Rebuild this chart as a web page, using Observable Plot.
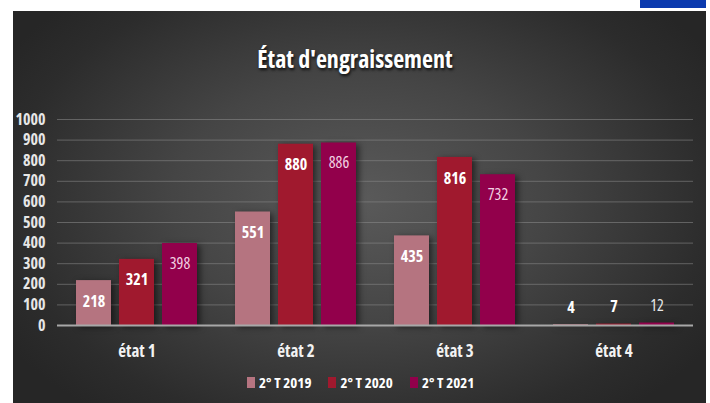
<!DOCTYPE html>
<html><head><meta charset="utf-8">
<script src="https://cdn.jsdelivr.net/npm/d3@7"></script>
<script src="https://cdn.jsdelivr.net/npm/@observablehq/plot@0.6"></script>
<style>
body{margin:0;background:#fff;width:710px;height:403px;overflow:hidden;position:relative;font-family:"Open Sans","DejaVu Sans",sans-serif;font-stretch:condensed;}
#blue{position:absolute;left:640px;top:0;width:66px;height:8px;background:#0b3aae;}
#panel{position:absolute;left:13px;top:11px;width:693px;height:392px;background:radial-gradient(ellipse 60% 70% at 50% 48%, #5a5a5a 0%, #454545 45%, #2c2c2c 85%, #262626 100%);}
#title{position:absolute;left:0;width:710px;top:45px;text-align:center;color:#fff;font-weight:bold;font-size:24px;line-height:28px;text-shadow:1px 2px 3px rgba(0,0,0,0.8);}
#chart{position:absolute;left:0;top:100px;}
#chart svg, #chart text{font-stretch:condensed;}
#chart g[aria-label="bar"] rect{filter:drop-shadow(3px 2px 3px rgba(0,0,0,0.55));}
#legend{position:absolute;top:373px;left:247px;display:flex;align-items:center;color:#fff;font-weight:bold;font-size:15px;line-height:18px;}
#legend .item{display:flex;align-items:center;margin-right:17px;}
#legend .sw{width:8px;height:11px;margin-right:4px;}
</style></head>
<body>
<div id="panel"></div>
<div id="blue"></div>
<div id="title">État d'engraissement</div>
<div id="chart"></div>
<div id="legend"></div>
<script>
const categories = ["état 1", "état 2", "état 3", "état 4"];
const series = ["2° T 2019", "2° T 2020", "2° T 2021"];
const v2019 = [218, 551, 435, 4];
const v2020 = [321, 880, 816, 7];
const v2021 = [398, 886, 732, 12];
const colors = ["#b57480", "#a0192e", "#92004b"];
const yTicks = [0, 100, 200, 300, 400, 500, 600, 700, 800, 900, 1000];

const values = [v2019, v2020, v2021];
const data = categories.flatMap((c, i) => series.map((s, j) => ({cat: c, s, v: values[j][i]})));

const font = '"Open Sans","DejaVu Sans",sans-serif';
const big = d => d.v >= 50;

const chart = Plot.plot({
  width: 710, height: 270,
  marginLeft: 57, marginRight: 17, marginTop: 19, marginBottom: 45,
  style: {background: "transparent", color: "#fff", fontFamily: font, fontSize: "16px", fontWeight: "bold", overflow: "visible", fontStretch: "condensed"},
  fx: {domain: categories, paddingInner: 0.226, paddingOuter: 0.113, label: null},
  x: {domain: series, paddingInner: 0.195, paddingOuter: 0, axis: null},
  y: {domain: [0, 1000], axis: null},
  color: {domain: series, range: colors},
  marks: [
    Plot.ruleY(yTicks.filter(t => t > 0), {stroke: "#8c8c8c", strokeOpacity: 0.55, strokeWidth: 1, insetLeft: -18, insetRight: -18}),
    Plot.barY(data, {fx: "cat", x: "s", y: "v", fill: "s"}),
    Plot.ruleY([0], {stroke: "#a8a8a8", strokeWidth: 2, insetLeft: -18, insetRight: -18}),
    Plot.axisY(yTicks, {anchor: "left", tickSize: 0, tickPadding: 30, label: null, tickFormat: d3.format("d"), fill: "#e6e6e6", fontSize: 16, fontWeight: "bold"}),
    Plot.axisFx({anchor: "bottom", tickSize: 0, tickPadding: 19, label: null, fill: "#f2f2f2", fontSize: 17, fontWeight: "bold"}),
    Plot.text(data.filter(d => big(d) && d.s !== series[2]), {fx: "cat", x: "s", y: "v", text: "v", dy: 21, fill: "#fff", fontSize: 16, fontWeight: "bold"}),
    Plot.text(data.filter(d => big(d) && d.s === series[2]), {fx: "cat", x: "s", y: "v", text: "v", dy: 20, fill: "#f3d2e3", fontSize: 16, fontWeight: "normal"}),
    Plot.text(data.filter(d => !big(d) && d.s !== series[2]), {fx: "cat", x: "s", y: "v", text: "v", dy: -17, fill: "#fff", fontSize: 16, fontWeight: "bold"}),
    Plot.text(data.filter(d => !big(d) && d.s === series[2]), {fx: "cat", x: "s", y: "v", text: "v", dy: -17, fill: "#e8e8e8", fontSize: 16, fontWeight: "normal"})
  ]
});
document.getElementById("chart").appendChild(chart);

const legend = document.getElementById("legend");
series.forEach((s, i) => {
  const item = document.createElement("div");
  item.className = "item";
  const sw = document.createElement("span");
  sw.className = "sw";
  sw.style.background = colors[i];
  const t = document.createElement("span");
  t.textContent = s;
  item.appendChild(sw); item.appendChild(t);
  legend.appendChild(item);
});
</script>
</body></html>
